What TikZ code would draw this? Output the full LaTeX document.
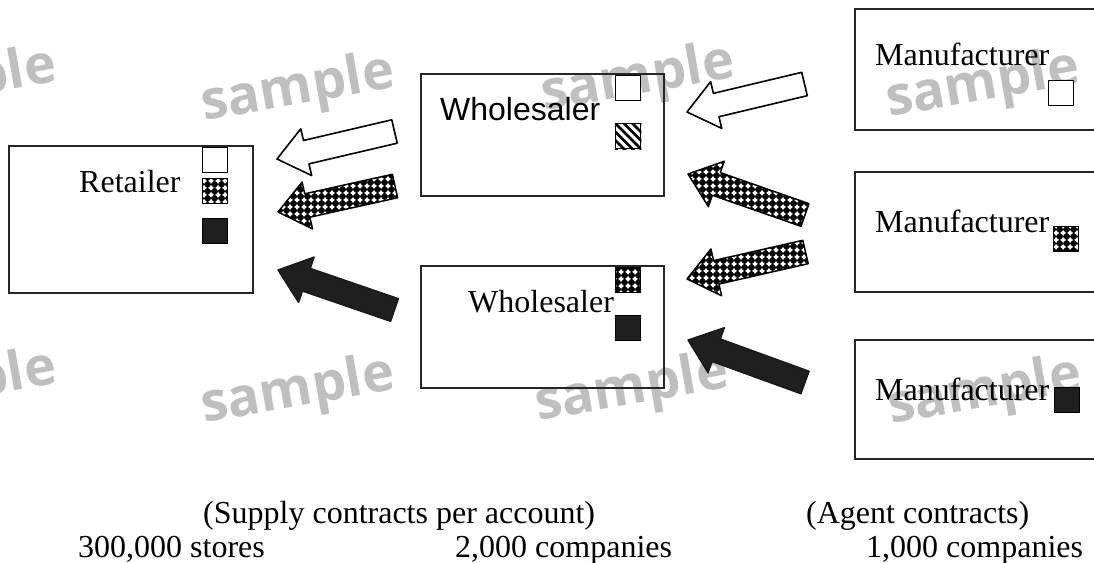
\documentclass[tikz,border=0pt]{standalone}
\usepackage{fontspec}
\setmainfont{Liberation Serif}
\setsansfont{Liberation Sans}
\newfontfamily\wmfont{Open Sans}
\usetikzlibrary{calc,patterns}

% white four-pointed stars on a square grid (drawn over a black fill)
\pgfdeclarepatternformonly{starcells}{\pgfqpoint{0pt}{0pt}}{\pgfqpoint{6.5pt}{6.5pt}}{\pgfqpoint{6.5pt}{6.5pt}}{%
  \pgfpathmoveto{\pgfqpoint{3.25pt}{0.2pt}}%
  \pgfpathlineto{\pgfqpoint{4.6pt}{1.9pt}}%
  \pgfpathlineto{\pgfqpoint{6.3pt}{3.25pt}}%
  \pgfpathlineto{\pgfqpoint{4.6pt}{4.6pt}}%
  \pgfpathlineto{\pgfqpoint{3.25pt}{6.3pt}}%
  \pgfpathlineto{\pgfqpoint{1.9pt}{4.6pt}}%
  \pgfpathlineto{\pgfqpoint{0.2pt}{3.25pt}}%
  \pgfpathlineto{\pgfqpoint{1.9pt}{1.9pt}}%
  \pgfpathclose
  \pgfusepath{fill}}

\tikzset{
  box/.style={draw=black!85, line width=1.9pt, inner sep=0pt, anchor=north west},
  lbl/.style={inner sep=0pt, anchor=base west, font=\fontsize{32}{36}\selectfont},
  sq/.style={draw=black, line width=1.4pt, minimum size=25pt, inner sep=0pt, anchor=north west},
  sqwhite/.style={sq, fill=white},
  sqdots/.style={sq, preaction={fill=black}, pattern=starcells, pattern color=white},
  sqdark/.style={sq, fill=black!88},
  sqhatch/.style={sq},
  arrwhite/.style={draw=black, line width=1.6pt, fill=white, line join=round},
  arrdots/.style={draw=black, line width=1.5pt, preaction={fill=black}, pattern=starcells, pattern color=white, line join=round},
  arrdark/.style={draw=black!90, line width=1.4pt, fill=black!88, line join=round},
  wm/.style={text=black!25, font=\wmfont\bfseries\fontsize{54}{60}\selectfont, rotate=10, inner sep=0pt},
  note/.style={inner sep=0pt, anchor=base west, font=\fontsize{32}{36}\selectfont},
}

% block arrow: #1 style, #2 tail coordinate, #3 tip coordinate
\newcommand\blockarrow[3]{%
  \coordinate (ba-p) at (#3);
  \coordinate (ba-t) at (#2);
  \coordinate (ba-h) at ($(ba-p)!30pt!(ba-t)$);
  \draw[#1] (ba-p) -- ($(ba-h)!24pt!90:(ba-t)$) -- ($(ba-h)!12pt!90:(ba-t)$)
    -- ($(ba-t)!12pt!-90:(ba-p)$) -- ($(ba-t)!12pt!90:(ba-p)$)
    -- ($(ba-h)!12pt!-90:(ba-t)$) -- ($(ba-h)!24pt!-90:(ba-t)$) -- cycle;
}

\begin{document}
\begin{tikzpicture}[x=1pt, y=-1pt]
\useasboundingbox (0,0) rectangle (1094,562);
\clip (0,0) rectangle (1094,562);
\fill[white] (0,0) rectangle (1094,562);

% watermark text
\node[wm] (wm1) at (-40,84) {sample};
\node[wm] (wm2) at (298,90) {sample};
\node[wm] (wm3) at (638,80) {sample};
\node[wm] (wm4) at (983,86) {sample};
\node[wm] (wm5) at (-40,386) {sample};
\node[wm] (wm6) at (298,392) {sample};
\node[wm] (wm7) at (632,390) {sample};
\node[wm] (wm8) at (985,393) {sample};

% boxes
\node[box, minimum width=244pt, minimum height=147pt] (ret) at (8,145) {};
\node[box, minimum width=243pt, minimum height=122pt] (wtop) at (420,73) {};
\node[box, minimum width=243pt, minimum height=122pt] (wbot) at (420,265) {};
\node[box, minimum width=260pt, minimum height=121pt] (mtop) at (854,8) {};
\node[box, minimum width=260pt, minimum height=120pt] (mmid) at (854,171) {};
\node[box, minimum width=260pt, minimum height=119pt] (mbot) at (854,339) {};

% labels
\node[lbl] (tret) at (79,192) {Retailer};
\node[lbl, font=\sffamily\fontsize{32}{36}\selectfont] (twtop) at (440,120) {Wholesaler};
\node[lbl] (twbot) at (468,312) {Wholesaler};
\node[lbl] (tmtop) at (875,65) {Manufacturer};
\node[lbl] (tmmid) at (875,232) {Manufacturer};
\node[lbl] (tmbot) at (875,400) {Manufacturer};

% product markers
\node[sqwhite] (r1) at (202,147) {};
\node[sqdots] (r2) at (202,178) {};
\node[sqdark] (r3) at (202,218) {};
\node[sqwhite] (w1) at (615,75) {};
\node[sqhatch] (w2) at (615,123) {};
\begin{scope}
  \clip (w2.north west) rectangle (w2.south east);
  \foreach \k in {-4,...,3}
    \draw[line width=2.6pt] ($(w2.north west)+(\k*8.5pt,0pt)$) -- ++(34pt,-34pt);
\end{scope}
\node[sq] at (615,123) {};
\node[sqdots] (w3) at (615,267) {};
\node[sqdark] (w4) at (615,315) {};
\node[sqwhite] (m1) at (1048,80) {};
\node[sqdots] (m2) at (1053,226) {};
\node[sqdark] (m3) at (1054,387) {};

% arrow end points
\coordinate (a1t) at (394.5,131.5); \coordinate (a1h) at (277,159);
\coordinate (a2t) at (395,186);     \coordinate (a2h) at (278,212);
\coordinate (a3t) at (394.5,310);   \coordinate (a3h) at (278,270);
\coordinate (a4t) at (804.5,84);    \coordinate (a4h) at (687,112);
\coordinate (a5t) at (805,215);     \coordinate (a5h) at (688,174);
\coordinate (a6t) at (805.5,252);   \coordinate (a6h) at (687,279);
\coordinate (a7t) at (805,382.5);   \coordinate (a7h) at (688,340);

\blockarrow{arrwhite}{a1t}{a1h}
\blockarrow{arrdots}{a2t}{a2h}
\blockarrow{arrdark}{a3t}{a3h}
\blockarrow{arrwhite}{a4t}{a4h}
\blockarrow{arrdots}{a5t}{a5h}
\blockarrow{arrdots}{a6t}{a6h}
\blockarrow{arrdark}{a7t}{a7h}

% counts
\node[note] (n1) at (203,523) {(Supply contracts per account)};
\node[note] (n2) at (806,523) {(Agent contracts)};
\node[note] (n3) at (78,557) {300,000 stores};
\node[note] (n4) at (455,557) {2,000 companies};
\node[note] (n5) at (866,557) {1,000 companies};
\end{tikzpicture}
\end{document}
